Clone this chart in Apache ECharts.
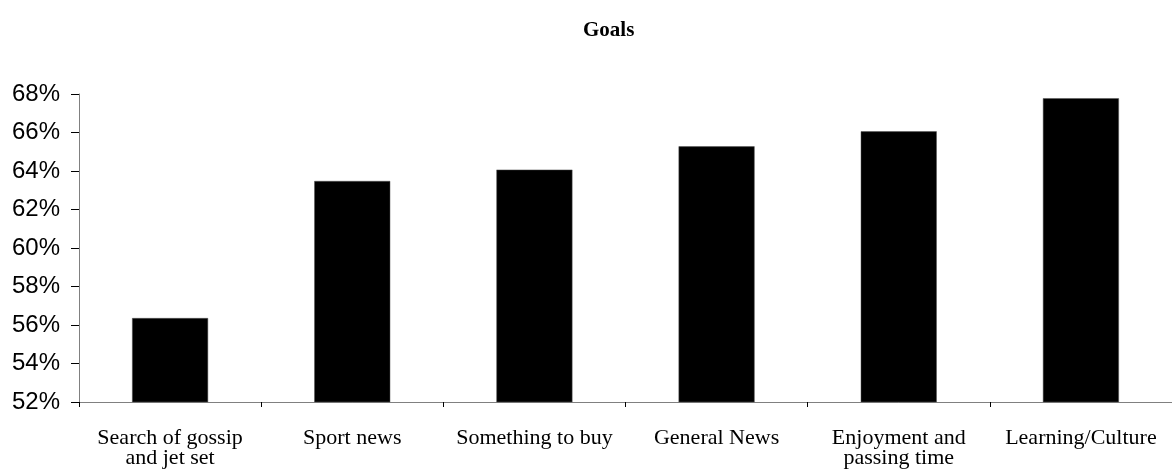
<!DOCTYPE html>
<html>
<head>
<meta charset="utf-8">
<script src="https://cdn.jsdelivr.net/npm/echarts@6/dist/echarts.min.js"></script>
<style>
  html, body { margin: 0; padding: 0; background: #fff; }
  #chart { width: 1172px; height: 474px; }
</style>
</head>
<body>
<div id="chart"></div>
<script>
// Share of respondents per goal (percent)
const categories = [
  'Search of gossip\nand jet set',
  'Sport news',
  'Something to buy',
  'General News',
  'Enjoyment and\npassing time',
  'Learning/Culture'
];
const shares = [56.36, 63.48, 64.07, 65.28, 66.06, 67.78];
const yMin = 52;
const yMax = 68;
const yStep = 2;

const chart = echarts.init(document.getElementById('chart'));
chart.setOption({
  animation: false,
  backgroundColor: '#ffffff',
  title: {
    text: 'Goals',
    left: 578,
    top: 15,
    textStyle: {
      fontFamily: '"Liberation Serif", "Times New Roman", serif',
      fontWeight: 'bold',
      fontSize: 21,
      color: '#000'
    }
  },
  grid: {
    left: 79,
    top: 94,
    width: 1101,
    height: 308,
    containLabel: false
  },
  xAxis: {
    type: 'category',
    data: categories,
    axisLine: { lineStyle: { color: '#808080', width: 1 } },
    axisTick: { show: true, alignWithLabel: false, length: 5, lineStyle: { color: '#000' } },
    axisLabel: {
      interval: 0,
      margin: 26,
      fontFamily: '"Liberation Serif", "Times New Roman", serif',
      fontSize: 22,
      lineHeight: 20,
      color: '#000'
    },
    splitLine: { show: false }
  },
  yAxis: {
    type: 'value',
    min: yMin,
    max: yMax,
    interval: yStep,
    axisLine: { show: true, lineStyle: { color: '#808080', width: 1 } },
    axisTick: { show: true, length: 8, lineStyle: { color: '#000' } },
    axisLabel: {
      formatter: '{value}%',
      margin: 19,
      fontFamily: '"Liberation Sans", Arial, sans-serif',
      fontSize: 24,
      color: '#000'
    },
    splitLine: { show: false }
  },
  series: [{
    type: 'bar',
    data: shares,
    barWidth: 76,
    itemStyle: { color: '#000', borderColor: '#555', borderWidth: 0.5 }
  }]
});
</script>
</body>
</html>
